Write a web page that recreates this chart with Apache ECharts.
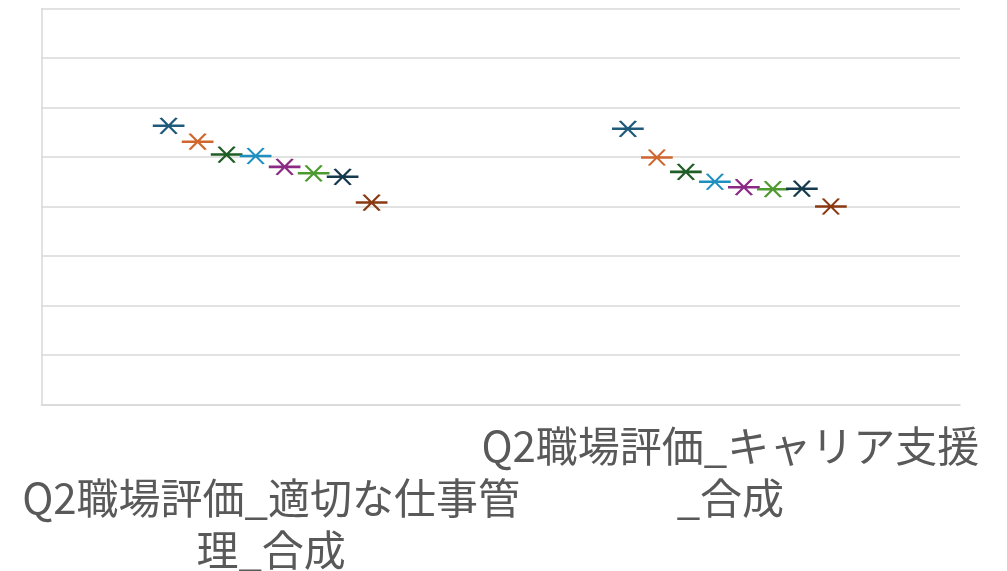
<!DOCTYPE html>
<html>
<head>
<meta charset="utf-8">
<script src="https://cdn.jsdelivr.net/npm/echarts@6/dist/echarts.min.js"></script>
<style>
  html, body { margin: 0; padding: 0; background: #ffffff; }
  #chart { width: 1007px; height: 571px; }
</style>
</head>
<body>
<div id="chart"></div>
<script>
// Question groups shown along the x axis
const categories = ['Q2職場評価_適切な仕事管理_合成', 'Q2職場評価_キャリア支援_合成'];

// Mean scores per respondent group (one series per group)
const seriesNames = ['群1', '群2', '群3', '群4', '群5', '群6', '群7', '群8'];
const values = [
  [5.63, 5.57],
  [5.31, 4.99],
  [5.05, 4.70],
  [5.02, 4.50],
  [4.80, 4.39],
  [4.67, 4.35],
  [4.60, 4.36],
  [4.08, 4.00]
];
const palette = ['#1f5a7a', '#cf672e', '#1f5e24', '#1f8fbf', '#8a2a85', '#4f9a30', '#163a4d', '#8a3a12'];

// Value axis range
const yMin = 0, yMax = 8, yStep = 1;

// Star-like marker: an X crossed by a thicker horizontal bar
const starMark = 'path://M0,7.5L29,7.5L29,8.5L0,8.5Z M6.5,0.5L22.5,15.5 M6.5,15.5L22.5,0.5';

const chart = echarts.init(document.getElementById('chart'), null, { renderer: 'canvas' });

const series = values.map((v, i) => ({
  name: seriesNames[i],
  type: 'line',
  data: v,
  lineStyle: { width: 0, opacity: 0 },
  symbol: starMark,
  symbolSize: [29, 16],
  symbolKeepAspect: false,
  symbolOffset: [(i - 3.5) * 29 - 1, 0],
  showAllSymbol: true,
  itemStyle: { color: palette[i], borderColor: palette[i], borderWidth: 2 },
  emphasis: { disabled: true },
  z: 3
}));

const labelFont = '"Noto Sans CJK JP", "Noto Sans", sans-serif';
const labelLine = 52;

// The first label sits one text line lower than the second
const axisData = categories.map((c, i) => i === 0
  ? { value: c, textStyle: { padding: [labelLine, 0, 0, 0] } }
  : { value: c });

chart.setOption({
  animation: false,
  grid: { left: 41.5, right: 47, top: 8.5, bottom: 166.5, containLabel: false, outerBoundsMode: 'none' },
  xAxis: {
    type: 'category',
    data: axisData,
    boundaryGap: true,
    axisLine: { show: true, lineStyle: { color: '#d9d9d9', width: 1.5 } },
    axisTick: { show: false },
    axisLabel: {
      interval: 0,
      margin: 16,
      width: 510,
      overflow: 'break',
      color: '#595959',
      fontSize: 42,
      lineHeight: labelLine,
      fontFamily: labelFont
    }
  },
  yAxis: {
    type: 'value',
    min: yMin,
    max: yMax,
    interval: yStep,
    axisLine: { show: true, lineStyle: { color: '#d9d9d9', width: 1.5 } },
    axisTick: { show: false },
    axisLabel: { show: false },
    splitLine: { show: true, lineStyle: { color: '#d9d9d9', width: 1.5 } }
  },
  series: series
});
</script>
</body>
</html>
